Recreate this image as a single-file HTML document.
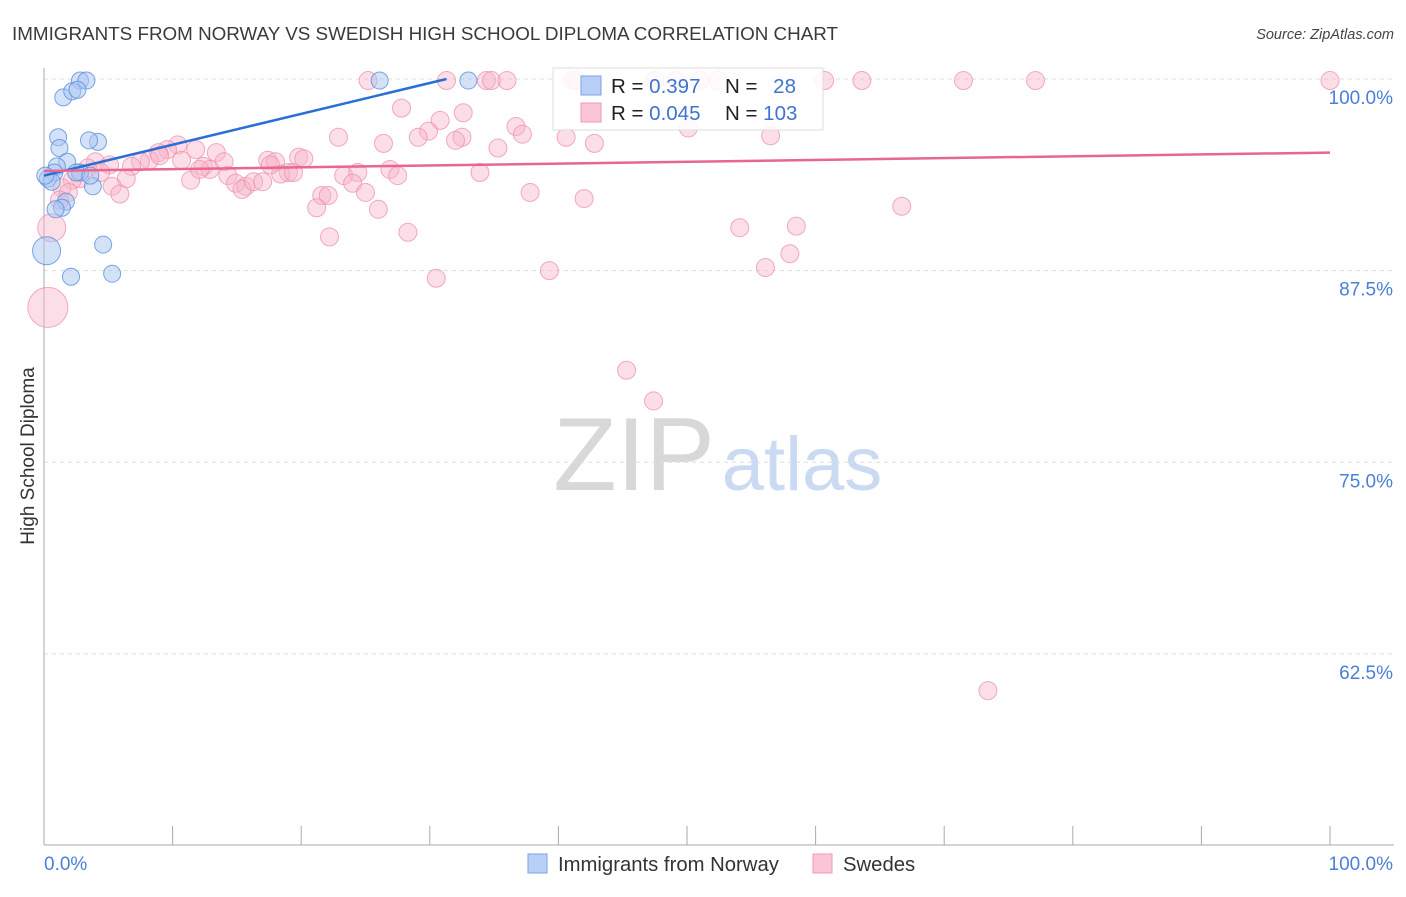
<!DOCTYPE html>
<html><head><meta charset="utf-8"><style>
body{margin:0;background:#fff;font-family:"Liberation Sans",sans-serif;}
svg text{font-family:"Liberation Sans",sans-serif;}
</style></head><body>
<svg id="chart" width="1406" height="892" viewBox="0 0 1406 892">
<text x="12" y="40" font-size="18.8" fill="#3a3a3a" textLength="826" lengthAdjust="spacingAndGlyphs">IMMIGRANTS FROM NORWAY VS SWEDISH HIGH SCHOOL DIPLOMA CORRELATION CHART</text>
<text x="1394" y="39" font-size="14.5" fill="#444" text-anchor="end" font-style="italic">Source: ZipAtlas.com</text>
<g>
<text x="634" y="490" font-size="104" fill="#d8d8d8" text-anchor="middle" font-family="Liberation Serif, serif">ZIP</text>
<text x="802" y="490" font-size="76" fill="#c9daf2" text-anchor="middle">atlas</text>
</g>
<g id="grid"></g>
<g id="axes"></g>
<g id="pts"></g>
<g id="lines"></g>
<text transform="translate(34,456) rotate(-90)" font-size="19" fill="#333" text-anchor="middle">High School Diploma</text>
<text x="44" y="870" font-size="19" fill="#4a7fd6">0.0%</text>
<text x="1393" y="870" font-size="19" fill="#4a7fd6" text-anchor="end">100.0%</text>
<g>
<rect x="553" y="68" width="270" height="62" fill="#fff" fill-opacity="0.85" stroke="#ddd"/>
<rect x="581" y="76" width="20" height="19" fill="#b8d0f5" stroke="#7aa3e0"/>
<rect x="581" y="103" width="20" height="19" fill="#fac5d5" stroke="#ee9ab5"/>
<text x="611" y="93" font-size="20.5" fill="#222">R = <tspan fill="#3d74d0">0.397</tspan></text>
<text x="725" y="93" font-size="20.5" fill="#222">N = <tspan fill="#3d74d0" dx="10">28</tspan></text>
<text x="611" y="120" font-size="20.5" fill="#222">R = <tspan fill="#3d74d0">0.045</tspan></text>
<text x="725" y="120" font-size="20.5" fill="#222">N = <tspan fill="#3d74d0">103</tspan></text>
</g>
<g>
<rect x="528" y="854" width="19" height="19" fill="#b8d0f5" stroke="#7aa3e0"/>
<text x="558" y="871" font-size="20.3" fill="#333">Immigrants from Norway</text>
<rect x="813" y="854" width="19" height="19" fill="#fac5d5" stroke="#ee9ab5"/>
<text x="843" y="871" font-size="20.3" fill="#333">Swedes</text>
</g>
</svg>
<script>
const yTicks=[100,87.5,75,62.5];
const yTickLabels=["100.0%","87.5%","75.0%","62.5%"];
const xTicks=[10,20,30,40,50,60,70,80,90,100];
const blueX=[2.8,3.3,26.1,33.0,1.5,2.2,2.6,1.1,4.2,3.5,1.2,1.8,1.0,0.8,0.3,0.6,2.8,3.8,1.7,1.4,0.9,4.6,0.2,2.1,5.3,2.5,0.1,3.6];
const blueY=[99.9,99.9,99.9,99.9,98.8,99.2,99.3,96.2,95.9,96.0,95.5,94.6,94.3,93.9,93.5,93.3,93.9,93.0,92.0,91.6,91.5,89.2,88.8,87.1,87.3,93.9,93.7,93.7];
const blueBig=[22];
const pinkX=[25.2,31.3,34.4,34.8,36.0,41.1,41.4,47.5,49.1,51.0,52.4,60.7,63.6,71.5,77.1,100,
27.8,32.6,30.8,29.9,29.1,36.7,32.5,32.0,22.9,26.4,37.2,40.6,42.8,50.1,56.5,35.3,10.4,9.6,8.9,11.8,13.4,10.7,8.2,7.5,6.8,4.0,3.4,5.1,14.0,12.4,12.9,17.4,18.0,19.8,20.2,19.0,18.4,19.4,14.3,11.4,6.4,5.3,5.9,2.8,2.2,1.4,1.9,14.9,15.7,15.4,16.3,17.0,23.3,24.4,24.0,26.9,27.5,33.9,25.0,21.6,22.1,21.2,26.0,22.2,28.3,37.8,42.0,30.5,39.3,54.1,58.5,56.1,58.0,66.7,45.3,47.4,73.4,0.6,0.3,1.2,4.4,9.0,17.6,12.1];
const pinkY=[99.9,99.9,99.9,99.9,99.9,99.9,99.9,99.9,99.9,99.9,99.9,99.9,99.9,99.9,99.9,99.9,
98.1,97.8,97.3,96.6,96.2,96.9,96.2,96.0,96.2,95.8,96.4,96.2,95.8,96.8,96.3,95.5,95.7,95.4,95.2,95.4,95.2,94.7,94.7,94.6,94.3,94.6,94.2,94.4,94.6,94.3,94.1,94.7,94.6,94.9,94.8,93.9,93.8,93.9,93.7,93.4,93.5,93.0,92.5,93.5,93.4,92.9,92.6,93.2,93.0,92.8,93.3,93.3,93.7,93.9,93.2,94.1,93.7,93.9,92.6,92.4,92.4,91.6,91.5,89.7,90.0,92.6,92.2,87.0,87.5,90.3,90.4,87.7,88.6,91.7,81.0,79.0,60.1,90.3,85.1,92.1,93.9,95.0,94.4,94.1];
const pinkBigIdx=[93,94];
const pinkBigR=[14,20];
const blueTrend=[0,93.7,31.3,100];
const pinkTrend=[0,94.0,100,95.2];
const X0=44,X1=1330,Y100=79,PXPER=15.33;
function sx(v){return X0+(X1-X0)*v/100;}
function sy(v){return Y100+(100-v)*PXPER;}
const NS="http://www.w3.org/2000/svg";
function mk(t,a,p){const e=document.createElementNS(NS,t);for(const k in a)e.setAttribute(k,a[k]);p.appendChild(e);return e;}
const grid=document.getElementById('grid'),axes=document.getElementById('axes'),pts=document.getElementById('pts'),lines=document.getElementById('lines');
yTicks.forEach((t,i)=>{
 const l=mk('line',{x1:X0,x2:1394,y1:sy(t),y2:sy(t),stroke:'#ddd','stroke-dasharray':'4,4'},grid);
 
 
 const tx=mk('text',{x:1393,y:sy(t)+25,'font-size':19,fill:'#4a7fd6','text-anchor':'end'},axes);
 tx.textContent=yTickLabels[i];
 
 
});
const ya=mk('line',{x1:X0,x2:X0,y1:68,y2:845,stroke:'#aaa'},axes);


const xa=mk('line',{x1:X0,x2:1394,y1:845,y2:845,stroke:'#aaa'},axes);


xTicks.forEach(t=>{
 const l=mk('line',{x1:sx(t),x2:sx(t),y1:826,y2:845,stroke:'#aaa'},axes);
 
 
});
pinkX.forEach((x,i)=>{
 const bi=pinkBigIdx.indexOf(i);
 const c=mk('circle',{cx:sx(x),cy:sy(pinkY[i]),r:bi>=0?pinkBigR[bi]:9,fill:'#f7b6ca','fill-opacity':0.45,stroke:'#ee8fae','stroke-opacity':0.75,'stroke-width':1},pts);
 
 
});
blueX.forEach((x,i)=>{
 const c=mk('circle',{cx:sx(x),cy:sy(blueY[i]),r:blueBig.includes(i)?14:8.5,fill:'#a9c6f2','fill-opacity':0.5,stroke:'#5b8fdc','stroke-opacity':0.8,'stroke-width':1},pts);
 
 
});
const bl=mk('line',{x1:sx(blueTrend[0]),y1:sy(blueTrend[1]),x2:sx(blueTrend[2]),y2:sy(blueTrend[3]),stroke:'#2a6fd6','stroke-width':2.5},lines);


const pl=mk('line',{x1:sx(pinkTrend[0]),y1:sy(pinkTrend[1]),x2:sx(pinkTrend[2]),y2:sy(pinkTrend[3]),stroke:'#e8668f','stroke-width':2.5},lines);


</script>
</body></html>
